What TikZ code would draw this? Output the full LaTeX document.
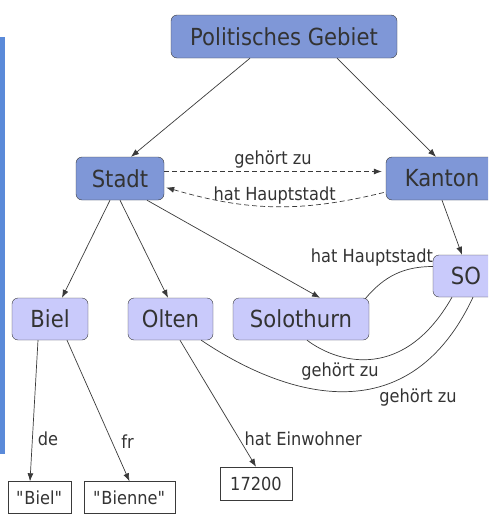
\documentclass[tikz,border=0pt]{standalone}
\usepackage{fontspec}
\setmainfont{DejaVu Sans}[FakeStretch=0.9]
\usepackage{xcolor}
\usepackage{tikz}
\usetikzlibrary{positioning,arrows.meta}
\definecolor{classfill}{HTML}{7F97D7}
\definecolor{instfill}{HTML}{C9CAFB}
\definecolor{barblue}{HTML}{5A8AD9}
\definecolor{ink}{HTML}{333333}
\definecolor{edge}{HTML}{3A3A3A}

\begin{document}
\begin{tikzpicture}[x=1pt,y=-1pt,
  box/.style={draw=edge, rounded corners=6pt, inner sep=0pt, minimum height=43pt,
    text=ink, font=\fontsize{23.5}{27}\selectfont},
  classbox/.style={box, fill=classfill},
  instbox/.style={box, fill=instfill, minimum height=42pt},
  litbox/.style={draw=edge, inner sep=0pt, minimum height=32pt, text=ink,
    font=\fontsize{18}{21}\selectfont},
  rel/.style={draw=edge, line width=0.7pt},
  arr/.style={rel, -{Latex[length=8pt,width=6pt]}},
  dashrel/.style={dash pattern=on 5pt off 3pt},
  lbl/.style={text=ink, font=\fontsize{18}{21}\selectfont, inner sep=1pt}]
\path[use as bounding box, clip] (0,0) rectangle (488,514);
\fill[barblue] (0,37) rectangle (5,454);

\node[classbox, minimum width=226pt] (gebiet) at (284,36.5) {Politisches Gebiet};
\node[classbox, minimum width=88pt] (stadt) at (120,178.5) {Stadt};
\node[classbox, minimum width=112pt] (kanton) at (442,178.5) {Kanton};
\node[instbox, minimum width=66pt] (so) at (466,276) {SO};
\node[instbox, minimum width=76pt] (biel) at (50,319) {Biel};
\node[instbox, minimum width=85pt] (olten) at (170.5,319) {Olten};
\node[instbox, minimum width=136pt] (solothurn) at (301,319) {Solothurn};
\node[litbox, minimum width=63pt] (bielde) at (39.5,497.5) {\textquotedbl Biel\textquotedbl};
\node[litbox, minimum width=91pt] (bielfr) at (129.5,497.5) {\textquotedbl Bienne\textquotedbl};
\node[litbox, minimum width=72pt, minimum height=33pt] (einw) at (256,483.5) {17200};

\draw[arr] ([xshift=-34pt]gebiet.south) -- ([xshift=11pt]stadt.north);
\draw[arr] ([xshift=53pt]gebiet.south) -- ([xshift=-6pt]kanton.north);
\draw[arr, dashrel] ([yshift=7pt]stadt.east) -- ([yshift=7pt, xshift=-4pt]kanton.west)
  node[lbl, midway, above=2pt] {gehört zu};
\draw[arr, dashrel] ([yshift=-14pt, xshift=-2pt]kanton.west) to[bend left=15]
  node[lbl, above=1pt] {hat Hauptstadt} ([yshift=-9pt, xshift=2pt]stadt.east);
\draw[arr] ([xshift=0pt]kanton.south) -- ([xshift=-4pt]so.north);
\draw[arr] ([xshift=-10pt]stadt.south) -- ([xshift=12pt]biel.north);
\draw[arr] (stadt.south) -- ([xshift=-2.5pt]olten.north);
\draw[arr] ([xshift=27pt]stadt.south) -- ([xshift=19pt]solothurn.north);

% SO und seine Staedte
\draw[rel] ([yshift=9.5pt]so.west) to[out=180, in=50] ([xshift=-4pt, yshift=-1pt]solothurn.north east);
\node[lbl] (hst) at (372,258) {hat Hauptstadt};
\draw[rel] ([xshift=6pt]solothurn.south) .. controls (340,365) and (405,380) .. ([xshift=-14pt]so.south);
\node[lbl] (gz1) at (340,372) {gehört zu};
\draw[rel] ([xshift=-12pt]olten.south east) .. controls (290,400) and (410,432) .. ([xshift=7pt]so.south);
\node[lbl] (gz2) at (418,398) {gehört zu};

\draw[arr] ([xshift=-12pt]biel.south) -- ([xshift=-9.5pt]bielde.north)
  node[lbl, pos=0.7, right=4pt] {de};
\draw[arr] ([xshift=17pt]biel.south) -- (bielfr.north)
  node[lbl, pos=0.72, right=8pt] {fr};
\draw[arr] ([xshift=9.5pt]olten.south) -- (einw.north)
  node[lbl, pos=0.78, right=4pt] {hat Einwohner};
\end{tikzpicture}
\end{document}
